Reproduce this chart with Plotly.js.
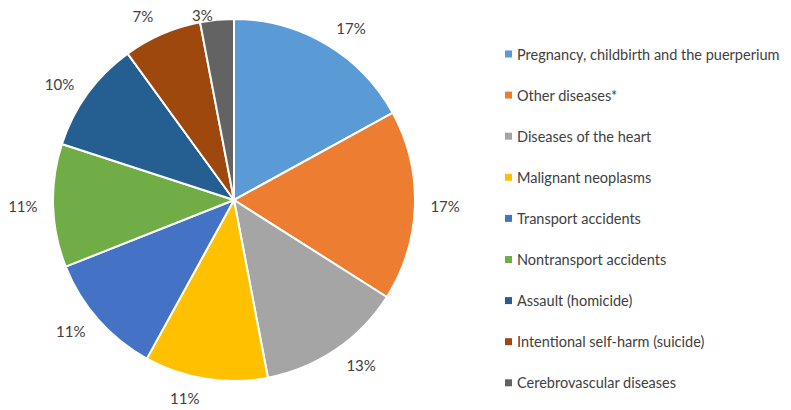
<!DOCTYPE html>
<html>
<head>
<meta charset="utf-8">
<script src="https://cdn.plot.ly/plotly-3.0.1.min.js"></script>
<style>html,body{margin:0;padding:0;background:#fff;}#chart{width:791px;height:410px;}</style>
</head>
<body>
<div id="chart"></div>
<script>
const causes = [
  "Pregnancy, childbirth and the puerperium",
  "Other diseases*",
  "Diseases of the heart",
  "Malignant neoplasms",
  "Transport accidents",
  "Nontransport accidents",
  "Assault (homicide)",
  "Intentional self-harm (suicide)",
  "Cerebrovascular diseases"
];
const shares = [17, 17, 13, 11, 11, 11, 10, 7, 3];
const colors = ["#5B9BD5", "#ED7D31", "#A5A5A5", "#FFC000", "#4472C4", "#70AD47", "#255E91", "#9E480E", "#636363"];

const W = 791, H = 410;
const cx = 234, cy = 200, R = 181, Rlab = 192, RlabSmall = 177;
const legendLeft = 505, legendTop = 54, legendStep = 41.1, sq = 7;
const FONT = "Lato, 'Open Sans', sans-serif";

function dom(r) {
  return {x: [(cx - r) / W, (cx + r) / W], y: [1 - (cy + r) / H, 1 - (cy - r) / H]};
}

const annotations = causes.map((c, i) => ({
  xref: "paper", yref: "paper",
  x: (legendLeft + 10) / W, y: 1 - (legendTop + i * legendStep) / H,
  xanchor: "left", yanchor: "middle",
  text: c, showarrow: false,
  font: {family: FONT, size: 14.5, color: "#404040"}
}));
const shapes = causes.map((c, i) => {
  const y = legendTop + i * legendStep;
  return {
    type: "rect", xref: "paper", yref: "paper",
    x0: legendLeft / W, x1: (legendLeft + sq) / W,
    y0: 1 - (y + sq / 2) / H, y1: 1 - (y - sq / 2) / H,
    fillcolor: colors[i], line: {width: 0}
  };
});

const pie = {
  type: "pie",
  labels: causes,
  values: shares,
  sort: false,
  direction: "clockwise",
  rotation: 0,
  marker: {colors: colors, line: {color: "#ffffff", width: 2}},
  textinfo: "none",
  domain: dom(R),
  automargin: false,
  showlegend: false
};

function labelPie(r, keep) {
  return {
    type: "pie",
    labels: causes,
    values: shares,
    sort: false,
    direction: "clockwise",
    rotation: 0,
    marker: {colors: causes.map(() => "rgba(0,0,0,0)"), line: {width: 0}},
    texttemplate: "%{value}%",
    textposition: shares.map(v => keep(v) ? "outside" : "none"),
    outsidetextfont: {family: FONT, size: 15, color: "#404040"},
    domain: dom(r),
    automargin: false,
    showlegend: false
  };
}

Plotly.newPlot("chart", [pie, labelPie(Rlab, v => v >= 5), labelPie(RlabSmall, v => v < 5)], {
  width: W, height: H,
  margin: {l: 0, r: 0, t: 0, b: 0},
  paper_bgcolor: "#ffffff",
  showlegend: false,
  annotations: annotations,
  shapes: shapes
}, {displayModeBar: false, staticPlot: true});
</script>
</body>
</html>
